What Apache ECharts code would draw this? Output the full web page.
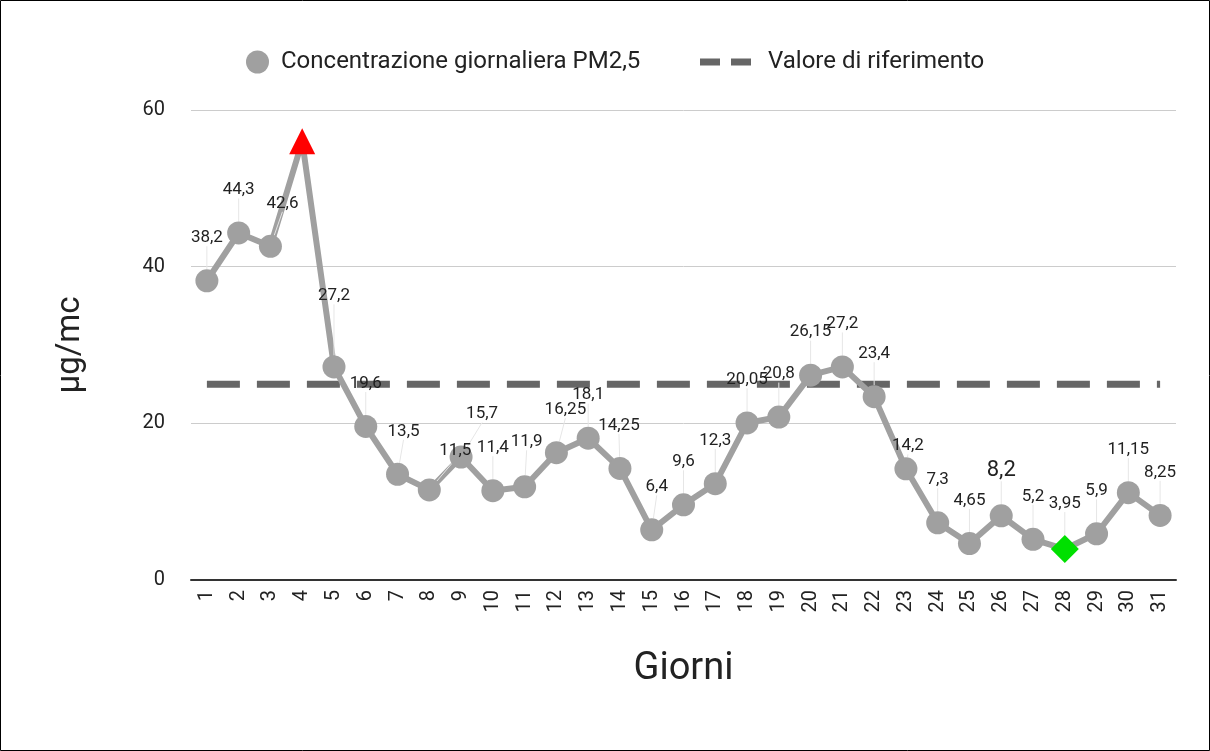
<!DOCTYPE html>
<html><head><meta charset="utf-8">
<script src="https://cdn.jsdelivr.net/npm/echarts@6/dist/echarts.min.js"></script>
<style>html,body{margin:0;padding:0;background:#fff}#c{width:1210px;height:751px}</style>
</head><body><div id="c"></div>
<script>
const days = ['1','2','3','4','5','6','7','8','9','10','11','12','13','14','15','16','17','18','19','20','21','22','23','24','25','26','27','28','29','30','31'];
const pm25 = [38.2,44.3,42.6,56,27.2,19.6,13.5,11.5,15.7,11.4,11.9,16.25,18.1,14.25,6.4,9.6,12.3,20.05,20.8,26.15,27.2,23.4,14.2,7.3,4.65,8.2,5.2,3.95,5.9,11.15,8.25];
const refValue = 25;
const yTicks = [0,20,40,60];
const maxDay = '4', minDay = '28';
// label nudges (styling only)
const labelShift = {2:[12,0],4:[0,-28],6:[6,0],7:[26,4],8:[21,0],10:[2,-2],11:[9,0],13:[-1,0],14:[5,0],22:[2,20]};

const chart = echarts.init(document.getElementById('c'));
const fmt = v => String(v).replace('.', ',');
const seriesData = pm25.map((v,i)=>{
  const d = {value:v};
  if(days[i]===maxDay){ d.symbol='triangle'; d.symbolSize=26; d.itemStyle={color:'#ff0000'}; d.label={show:false}; d.labelLine={show:false}; }
  if(days[i]===minDay){ d.symbol='diamond'; d.symbolSize=28; d.itemStyle={color:'#00e000'}; }
  if(days[i]==='26'){ d.label={fontSize:22}; }
  return d;
});
chart.setOption({
  animation:false,
  textStyle:{fontFamily:'Roboto'},
  graphic:[{type:'rect',shape:{x:0.5,y:0.5,width:1209,height:750},style:{fill:'none',stroke:'#000',lineWidth:1},silent:true}],
  legend:[
    {data:[{name:'Concentrazione giornaliera PM2,5',icon:'circle'}],left:241,top:45,itemWidth:23,itemHeight:23,
     textStyle:{fontSize:24,color:'#222',fontFamily:'Roboto',padding:[0,0,0,7]}},
    {data:[{name:'Valore di riferimento',icon:'path://M0,0H20V7H0Z M31,0H51V7H31Z'}],left:695,top:45,itemWidth:51,itemHeight:7,
     textStyle:{fontSize:24,color:'#222',fontFamily:'Roboto',padding:[0,0,0,12]}}
  ],
  grid:{left:191,right:34,top:110,bottom:171},
  xAxis:{type:'category',data:days,boundaryGap:true,
    axisLine:{lineStyle:{color:'#333',width:2}},axisTick:{show:false},
    axisLabel:{rotate:90,fontSize:20,color:'#222',margin:10,interval:0},
    name:'Giorni',nameLocation:'middle',nameGap:70,nameTextStyle:{fontSize:38,color:'#222'}},
  yAxis:{type:'value',min:0,max:60,interval:20,
    axisLine:{show:false},axisTick:{show:false},
    splitLine:{lineStyle:{color:'#cccccc',width:1}},
    axisLabel:{fontSize:20,color:'#222',margin:26,formatter:v=>yTicks.includes(v)?String(v):''},
    name:'µg/mc',nameLocation:'middle',nameGap:104,nameTextStyle:{fontSize:33,color:'#222'}},
  series:[
    {name:'Concentrazione giornaliera PM2,5',type:'line',data:seriesData,symbol:'circle',symbolSize:23,
     itemStyle:{color:'#a0a0a0'},lineStyle:{color:'#a0a0a0',width:6},
     label:{show:true,position:'top',distance:4,fontSize:17,color:'#222',formatter:p=>fmt(p.value)},
     labelLine:{show:true,lineStyle:{color:'#e6e6e6',width:1}},
     labelLayout:p=>{const s=labelShift[p.dataIndex]||[0,0];return {dx:s[0],dy:-19+s[1]};},
     z:3},
    {name:'Valore di riferimento',type:'line',data:days.map(()=>refValue),symbol:'none',
     itemStyle:{color:'#666'},lineStyle:{color:'#666',width:7,type:[33,17]},z:2}
  ]
});
</script></body></html>
